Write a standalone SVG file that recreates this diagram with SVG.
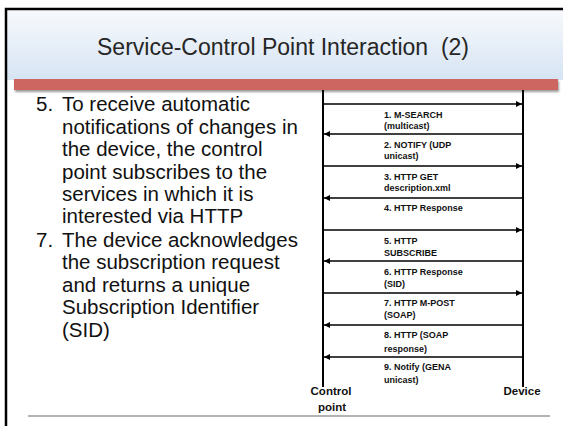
<svg xmlns="http://www.w3.org/2000/svg" width="563" height="426" viewBox="0 0 563 426">
  <defs>
    <linearGradient id="headGrad" x1="0" y1="0" x2="0" y2="1">
      <stop offset="0" stop-color="#f7f9fc"/>
      <stop offset="1" stop-color="#d6e4f3"/>
    </linearGradient>
    <marker id="head" viewBox="0 0 6 6" refX="6" refY="3" markerWidth="6" markerHeight="6" markerUnits="userSpaceOnUse" orient="auto">
      <path d="M0,0 L6,3 L0,6 Z" fill="#000"/>
    </marker>
    <filter id="barShadow" x="-5%" y="-50%" width="110%" height="250%">
      <feDropShadow dx="1" dy="2" stdDeviation="1.2" flood-color="#555" flood-opacity="0.6"/>
    </filter>
  </defs>
  <style>
    .title { font-family: "Liberation Sans", Arial, sans-serif; font-size: 23px; fill: #262626; white-space: pre; }
    .body { font-family: "Liberation Sans", Arial, sans-serif; font-size: 20.5px; fill: #111; }
    .msg { font-family: "Liberation Sans", Arial, sans-serif; font-size: 9px; font-weight: bold; fill: #111; }
    .actor { font-family: "Liberation Sans", Arial, sans-serif; font-size: 11.5px; font-weight: bold; fill: #111; }
    .life { stroke: #000; stroke-width: 2; }
    .arrow { stroke: #000; stroke-width: 1.3; marker-end: url(#head); }
  </style>

  <!-- slide background and frame -->
  <rect x="0" y="0" width="563" height="426" fill="#fff"/>
  <rect x="6" y="10" width="557" height="70" fill="url(#headGrad)"/>
  <path d="M6,426 V9 H563" fill="none" stroke="#000" stroke-width="2.5"/>

  <!-- title -->
  <text class="title" x="283" y="55" text-anchor="middle">Service-Control Point Interaction  (2)</text>

  <!-- accent bar -->
  <rect x="14" y="79" width="544" height="11" fill="#cd6560" filter="url(#barShadow)"/>

  <!-- bullet text -->
  <g id="bullets">
    <text class="body" x="36" y="111">5.</text>
    <text class="body" x="62" y="111">To receive automatic</text>
    <text class="body" x="62" y="134">notifications of changes in</text>
    <text class="body" x="62" y="156">the device, the control</text>
    <text class="body" x="62" y="179">point subscribes to the</text>
    <text class="body" x="62" y="201">services in which it is</text>
    <text class="body" x="62" y="223">interested via HTTP</text>
    <text class="body" x="36" y="247">7.</text>
    <text class="body" x="62" y="247">The device acknowledges</text>
    <text class="body" x="62" y="269">the subscription request</text>
    <text class="body" x="62" y="292">and returns a unique</text>
    <text class="body" x="62" y="314">Subscription Identifier</text>
    <text class="body" x="62" y="337">(SID)</text>
  </g>

  <!-- participants -->
  <g id="control-point">
    <line class="life" x1="323" y1="90" x2="323" y2="387"/>
    <text class="actor" x="331" y="395" text-anchor="middle">Control</text>
    <text class="actor" x="332" y="411" text-anchor="middle">point</text>
  </g>
  <g id="device">
    <line class="life" x1="523" y1="90" x2="523" y2="387"/>
    <text class="actor" x="522" y="395" text-anchor="middle">Device</text>
  </g>

  <!-- messages -->
  <g id="messages">
    <line class="arrow" x1="323" y1="104" x2="522" y2="104"/>
    <line class="arrow" x1="523" y1="134" x2="324" y2="134"/>
    <line class="arrow" x1="323" y1="166" x2="522" y2="166"/>
    <line class="arrow" x1="523" y1="198" x2="324" y2="198"/>
    <line class="arrow" x1="323" y1="230" x2="522" y2="230"/>
    <line class="arrow" x1="523" y1="261" x2="324" y2="261"/>
    <line class="arrow" x1="323" y1="293" x2="522" y2="293"/>
    <line class="arrow" x1="523" y1="325" x2="324" y2="325"/>
    <line class="arrow" x1="523" y1="357" x2="324" y2="357"/>
  </g>

  <!-- message labels -->
  <g id="labels">
    <text class="msg" x="384" y="118">1. M-SEARCH</text>
    <text class="msg" x="384" y="129">(multicast)</text>
    <text class="msg" x="384" y="148">2. NOTIFY (UDP</text>
    <text class="msg" x="384" y="159">unicast)</text>
    <text class="msg" x="384" y="180">3. HTTP GET</text>
    <text class="msg" x="384" y="191">description.xml</text>
    <text class="msg" x="384" y="211">4. HTTP Response</text>
    <text class="msg" x="384" y="244">5. HTTP</text>
    <text class="msg" x="384" y="256">SUBSCRIBE</text>
    <text class="msg" x="384" y="275">6. HTTP Response</text>
    <text class="msg" x="384" y="287">(SID)</text>
    <text class="msg" x="384" y="306">7. HTTP M-POST</text>
    <text class="msg" x="384" y="318">(SOAP)</text>
    <text class="msg" x="384" y="338">8. HTTP (SOAP</text>
    <text class="msg" x="384" y="352">response)</text>
    <text class="msg" x="384" y="370">9. Notify (GENA</text>
    <text class="msg" x="384" y="383">unicast)</text>
  </g>

  <!-- footer rule -->
  <line x1="28" y1="416" x2="550" y2="416" stroke="#b3b3b3" stroke-width="2"/>
</svg>
